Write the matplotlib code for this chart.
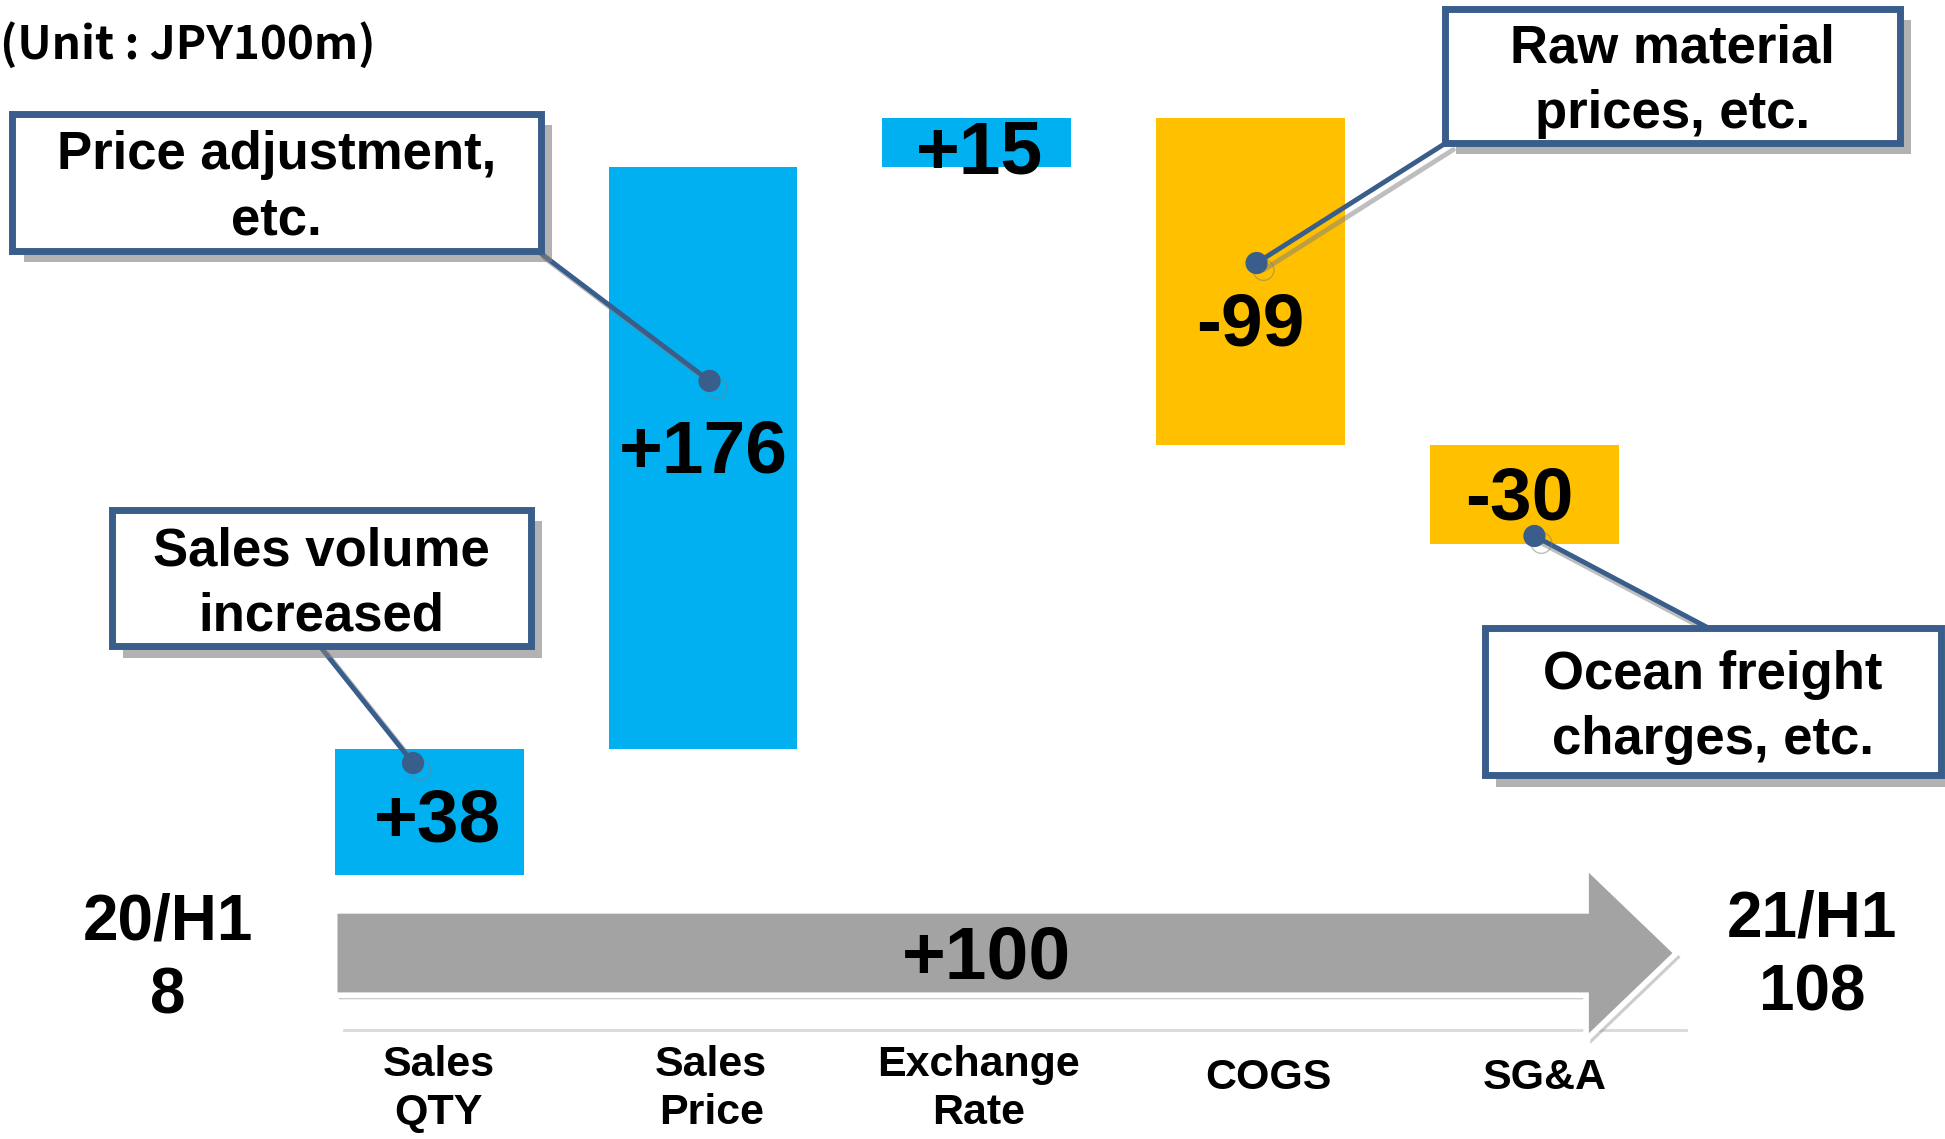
import matplotlib
matplotlib.use("Agg")
import matplotlib.pyplot as plt
from matplotlib.patches import Rectangle, FancyArrow
import matplotlib.patheffects as pe

# ---- data ----
categories = ["Sales\nQTY", "Sales\nPrice", "Exchange\nRate", "COGS", "SG&A"]
changes = [38, 176, 15, -99, -30]
start_label = "20/H1"
start_value = 8
end_label = "21/H1"
end_value = 108
total_change = 100
callouts = ["Sales volume\nincreased", "Price adjustment,\netc.", "Raw material\nprices, etc.",
            "Ocean freight\ncharges, etc."]
unit_text = "(Unit : JPY100m)"

BLUE = "#00B0F0"
YELLOW = "#FFC000"
NAVY = "#3A5E8B"

plt.rcParams['font.family'] = ['Liberation Sans', 'DejaVu Sans']

fig = plt.figure(figsize=(19.45, 11.39), dpi=100)
ax = fig.add_axes([0, 0, 1, 1])
# axis mapping (reference layout in 1568x918 units)
PXX, X0 = 220.75, 346.0
PXY, Y0 = 2.664, 726.3
ax.set_xlim(-X0 / PXX, (1568 - X0) / PXX)
ax.set_ylim((Y0 - 918) / PXY, Y0 / PXY)
ax.axis("off")


def F(x, y):
    return (x / 1568.0, 1 - y / 918.0)


# ---- waterfall bars ----
bottoms = []
level = start_value
for c in changes:
    bottoms.append(level if c >= 0 else level + c)
    level += c
colors = [BLUE if c >= 0 else YELLOW for c in changes]
xs = list(range(len(changes)))
ax.bar(xs, [abs(c) for c in changes], bottom=bottoms, width=0.69, color=colors, zorder=2)

label_dx = [0.03, 0.0, 0.01, 0.0, -0.02]
label_dy = [-3, 1.5, -3.5, -13.5, -1.5]
for x, b, c, dx, dy in zip(xs, bottoms, changes, label_dx, label_dy):
    ax.text(x + dx, b + abs(c) / 2 + dy, f"{c:+d}", ha="center", va="center",
            fontsize=54, fontweight="bold", color="black", zorder=6)

# ---- baseline + total arrow ----
ax.plot([-0.31, 4.59], [-38.9, -38.9], color="#D9D9D9", lw=2, zorder=1)
arrow = FancyArrow(-0.345, -15.7, 4.90, 0, width=25.5, head_width=52.5, head_length=0.33,
                   length_includes_head=True, facecolor="#A3A3A3", edgecolor="white", lw=4,
                   zorder=3)
arrow.set_path_effects([pe.withSimplePatchShadow(offset=(3, -3), shadow_rgbFace="#909090", alpha=0.45)])
ax.add_patch(arrow)
ax.text(2.034, -17.5, f"{total_change:+d}", ha="center", va="center", fontsize=54,
        fontweight="bold", zorder=5)

# ---- start / end labels ----
ax.text(*F(135, 773), f"{start_label}\n{start_value}", transform=fig.transFigure, ha="center",
        va="center", fontsize=46, fontweight="bold", linespacing=1.3)
ax.text(*F(1461, 771), f"{end_label}\n{end_value}", transform=fig.transFigure, ha="center",
        va="center", fontsize=46, fontweight="bold", linespacing=1.3)

# ---- category labels ----
cat_dx = [0.035, 0.03, 0.005, 0.065, 0.075]
for x, lab, dx in zip(xs, categories, cat_dx):
    ypx = 869 + 9 * lab.count("\n")
    ax.text(x + dx, (Y0 - ypx) / PXY, lab, ha="center", va="center", fontsize=31,
            fontweight="bold", linespacing=1.25)

# ---- unit label ----
fig.text(*F(0, 37), unit_text, ha="left", va="center", fontsize=33, fontweight="bold",
         family=["Noto Sans CJK JP", "DejaVu Sans"])

# ---- callouts ----
boxes = [(90, 411, 428, 521), (10, 92, 436, 202), (1165, 7, 1532, 115), (1197, 506, 1565, 625)]
lines = [((258, 521), (333, 615)), ((433, 202), (572, 307)), ((1166, 115), (1013, 212)),
         ((1377, 506), (1237, 432))]
shadow = [pe.SimplePatchShadow(offset=(8, -8), shadow_rgbFace="#7f7f7f", alpha=0.6), pe.Normal()]
lshadow = [pe.SimpleLineShadow(offset=(5, -5), shadow_color="#7f7f7f", alpha=0.5), pe.Normal()]
for (l, t, r, b), ((x1, y1), (x2, y2)), txt in zip(boxes, lines, callouts):
    fx1, fy1 = F(x1, y1)
    fx2, fy2 = F(x2, y2)
    ln, = ax.plot([fx1, fx2], [fy1, fy2], transform=fig.transFigure, color=NAVY, lw=3.5,
                  zorder=7, solid_capstyle="round")
    ln.set_path_effects(lshadow)
    dot, = ax.plot([fx2], [fy2], transform=fig.transFigure, marker="o", ms=15, color=NAVY,
                   zorder=8)
    dot.set_path_effects(lshadow)
    fl, fb = F(l, b)
    fr, ft = F(r, t)
    rect = Rectangle((fl, fb), fr - fl, ft - fb, transform=fig.transFigure, facecolor="white",
                     edgecolor=NAVY, lw=5, zorder=9)
    rect.set_path_effects(shadow)
    ax.add_patch(rect)
    ax.text((fl + fr) / 2, (fb + ft) / 2 - 0.005, txt, transform=fig.transFigure, ha="center",
            va="center", fontsize=38, fontweight="bold", linespacing=1.4, zorder=10)

fig.savefig("out.png", dpi=100)
